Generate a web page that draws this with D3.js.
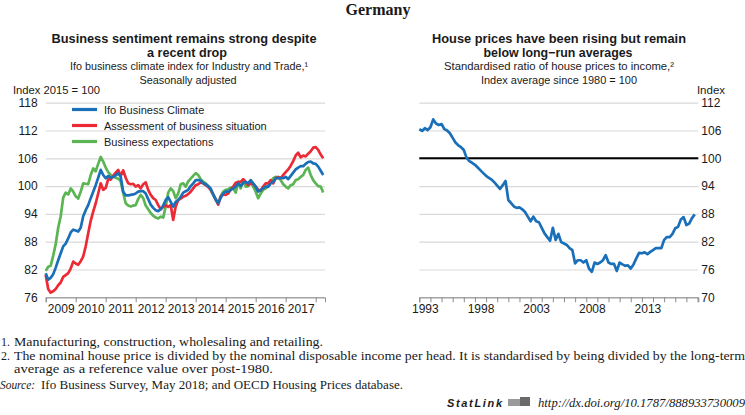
<!DOCTYPE html>
<html><head><meta charset="utf-8">
<script src="https://cdn.jsdelivr.net/npm/d3@7"></script>
<style>
body{margin:0;background:#fff;}
svg text{font-family:"Liberation Sans","Arial",sans-serif;fill:#1a1a1a;}
.serif{font-family:"Liberation Serif","Times New Roman",serif !important;}
</style></head><body>
<svg id="c" width="745" height="415"></svg>
<script>
// ---------- DATA ----------
// Ifo business climate, monthly Jan 2009 - Apr 2018 (Index 2015 = 100)
const climate = [
 81.2,79.8,80.2,81.0,82.4,84.0,85.5,87.0,87.6,88.7,90.0,90.6,
 90.4,90.2,91.0,93.5,94.8,95.9,97.4,98.8,100.2,101.8,103.5,102.4,
 101.7,102.2,101.8,102.0,102.3,102.8,102.0,98.8,98.0,98.0,98.1,98.2,
 98.4,98.8,98.9,98.9,98.4,97.2,96.0,95.3,94.8,94.6,95.0,95.8,
 97.0,97.6,96.6,95.6,96.6,97.0,97.7,98.6,98.9,99.2,100.0,100.6,
 101.3,101.3,101.2,100.6,100.4,100.0,99.5,98.2,97.1,96.3,97.5,98.4,
 98.8,98.8,99.2,99.5,99.9,100.6,100.0,100.7,100.9,100.6,101.3,100.6,
 99.9,98.8,99.2,99.5,99.9,99.9,100.6,100.9,101.7,101.7,101.8,101.7,
 102.0,101.5,102.2,102.9,103.6,104.0,104.3,104.3,104.8,105.2,105.3,104.9,
 104.8,104.2,103.3,102.4];
const situation = [
 80.8,77.8,77.0,77.3,77.8,78.6,79.2,80.4,80.8,81.2,82.2,83.7,
 83.3,83.0,83.8,84.8,87.0,89.8,92.5,94.5,96.3,98.4,100.6,99.2,
 99.6,101.5,101.4,102.2,102.9,103.5,102.2,103.4,101.8,100.6,100.4,100.5,
 99.9,100.2,99.5,100.4,100.8,99.2,98.1,97.4,97.0,95.9,95.0,95.5,
 95.9,95.5,95.9,92.7,95.6,97.0,97.3,97.7,97.9,98.3,98.8,99.5,
 100.2,100.4,100.8,100.6,100.2,99.8,99.2,98.2,97.2,96.0,97.8,98.2,
 98.1,98.4,99.2,99.9,100.7,100.9,100.9,101.5,100.9,100.2,100.6,100.4,
 99.9,99.2,99.0,99.9,100.6,100.6,101.3,100.6,101.7,102.0,101.7,102.4,
 103.0,103.6,104.4,105.4,106.6,107.2,106.2,106.6,106.4,107.0,107.5,108.3,
 108.4,107.8,106.8,106.0];
const expectations = [
 81.7,82.6,82.8,85.0,87.5,91.0,93.5,97.5,98.6,98.2,99.5,98.8,
 97.8,97.3,98.8,100.6,100.5,100.4,102.4,103.8,103.2,104.8,106.3,105.3,
 104.0,103.0,102.4,102.0,101.8,101.6,101.0,98.5,96.3,95.8,95.6,95.8,
 95.9,97.2,98.1,97.4,95.8,95.0,94.2,93.6,93.2,93.0,93.4,93.2,
 95.6,98.6,99.5,98.9,97.4,98.4,100.4,100.6,99.9,101.0,101.6,102.2,
 102.8,102.4,101.5,101.0,100.6,100.0,99.2,98.1,97.0,96.2,97.8,98.8,
 99.2,99.3,99.7,99.5,98.6,100.9,99.5,101.3,99.9,100.0,100.9,99.9,
 98.8,97.4,98.4,99.2,99.5,99.9,100.9,101.7,102.0,101.8,101.3,100.4,
 99.9,99.5,100.2,100.4,101.3,101.5,102.0,102.4,103.5,104.0,102.4,101.3,
 100.6,100.0,99.9,98.6];
const seriesNames = ["Ifo Business Climate","Assessment of business situation","Business expectations"];
const seriesColors = ["#1a6fb9","#ec2a35","#5ab552"];
const firstMonth = 2009; // Jan 2009

// Standardised price-to-income ratio, quarterly 1993Q1 - 2017Q4 (avg since 1980 = 100)
const houseRatio = [
 106.3,105.9,106.5,106.1, 106.7,108.4,107.5,107.2, 107.4,106.3,106.0,105.4,
 104.4,103.4,102.8,102.4, 101.8,100.1,99.4,99.0, 98.6,98.0,97.4,96.8,
 96.2,95.8,95.4,94.8, 94.1,93.4,94.2,95.1, 91.0,90.3,89.6,89.3,
 89.4,89.0,88.4,87.4, 86.4,87.4,86.4,86.2, 85.0,83.8,83.0,82.2,
 85.0,82.4,83.7,81.9, 81.6,81.3,80.6,80.2, 77.3,78.0,78.0,77.5,
 78.0,76.2,75.5,77.5, 77.2,77.5,78.0,79.1, 77.5,77.2,77.2,75.7,
 77.5,77.1,76.8,76.9, 76.2,77.1,78.4,79.6, 79.5,79.7,79.3,79.8,
 80.2,80.6,80.6,80.6, 82.4,83.0,83.0,83.7, 84.9,85.2,86.8,87.3,
 85.6,85.9,87.1,87.9];
const firstQuarter = 1993;
const referenceLevel = 100;

const leftYTicks = [76,82,88,94,100,106,112,118];
const rightYTicks = [70,76,82,88,94,100,106,112];
const leftYearTicks = d3.range(2009, 2019);
const leftYearLabels = d3.range(2009, 2018);
const rightYearTicks = d3.range(1993, 2019);
const rightYearLabels = [1993,1998,2003,2008,2013];

// ---------- DRAW ----------
(function(){
const svg = d3.select("#c");
const plotTop = 102.7, plotBottom = 297.3;

svg.append("text").attr("x",378).attr("y",15).attr("text-anchor","middle")
  .attr("class","serif").style("font-weight","bold").style("font-size","16px").text("Germany");

function fitText(x,y,t,size,len,bold){
  const e = svg.append("text").attr("x",x).attr("y",y).attr("text-anchor","middle")
    .style("font-size",size+"px").text(t)
    .attr("textLength",len).attr("lengthAdjust","spacingAndGlyphs");
  if(bold) e.style("font-weight","bold");
  return e;
}
// left titles
fitText(184,42.5,"Business sentiment remains strong despite",12.8,265,true);
fitText(187,57,"a recent drop",12.8,80,true);
fitText(189,70,"Ifo business climate index for Industry and Trade,\u00b9",11.5,238,false);
fitText(188,84,"Seasonally adjusted",11.5,97,false);
// right titles
fitText(559,42.5,"House prices have been rising but remain",12.8,254,true);
fitText(558,57,"below long\u2212run averages",12.8,149,true);
fitText(559,70,"Standardised ratio of house prices to income,\u00b2",11.5,230,false);
fitText(559,84,"Index average since 1980 = 100",11.5,156,false);

svg.append("text").attr("x",13).attr("y",93.5).style("font-size","11.5px")
  .attr("textLength",87).attr("lengthAdjust","spacingAndGlyphs").text("Index 2015 = 100");
svg.append("text").attr("x",711).attr("y",93.5).attr("text-anchor","middle").style("font-size","11.5px").text("Index");

// LEFT PANEL
const xL = d3.scaleLinear().domain([2009, 2018.31]).range([45.7, 325]);
const yL = d3.scaleLinear().domain([76,118]).range([plotBottom, plotTop]);
const gL = svg.append("g");
gL.append("g").attr("transform",`translate(${xL.range()[0]},0)`)
  .call(d3.axisLeft(yL).tickValues(leftYTicks).tickSize(-(xL.range()[1]-xL.range()[0])).tickFormat(""))
  .call(g=>g.select(".domain").remove())
  .call(g=>g.selectAll("line").attr("stroke","#d9d9d9").attr("stroke-width",1.2));
gL.append("g").attr("transform",`translate(${xL.range()[0]},0)`)
  .call(d3.axisLeft(yL).tickValues(leftYTicks).tickSize(0).tickPadding(8))
  .call(g=>g.select(".domain").remove())
  .call(g=>g.selectAll("text").style("font-size","12px").attr("fill","#1a1a1a"));
gL.append("g").attr("transform",`translate(0,${plotBottom})`)
  .call(d3.axisBottom(xL).tickValues(leftYearTicks).tickSize(5).tickFormat(""))
  .call(g=>g.select(".domain").attr("stroke","#8c8c8c"))
  .call(g=>g.selectAll("line").attr("stroke","#8c8c8c"));
gL.append("g").attr("transform",`translate(0,${plotBottom})`)
  .call(d3.axisBottom(xL).tickValues(leftYearLabels.map(y=>y+0.5)).tickSize(0).tickPadding(7).tickFormat(d=>String(Math.floor(d))))
  .call(g=>g.select(".domain").remove())
  .call(g=>g.selectAll("text").style("font-size","12px").attr("fill","#1a1a1a"));

const lineL = d3.line().x((d,i)=>xL(firstMonth + i/12)).y(d=>yL(d));
[[expectations,2],[situation,1],[climate,0]].forEach(([s,idx])=>{
  gL.append("path").datum(s).attr("d",lineL).attr("fill","none")
    .attr("stroke",seriesColors[idx]).attr("stroke-width",2.7).attr("stroke-linejoin","round");
});
// legend
seriesNames.forEach((n,i)=>{
  const y = 109.5 + i*16;
  gL.append("line").attr("x1",72).attr("x2",97).attr("y1",y).attr("y2",y)
    .attr("stroke",seriesColors[i]).attr("stroke-width",3.2);
  gL.append("text").attr("x",104).attr("y",y+4).style("font-size","11px").text(n);
});

// RIGHT PANEL
const xR = d3.scaleLinear().domain([1993, 2018.07]).range([419.3, 698.3]);
const yR = d3.scaleLinear().domain([70,112]).range([plotBottom, plotTop]);
const gR = svg.append("g");
gR.append("g").attr("transform",`translate(${xR.range()[1]},0)`)
  .call(d3.axisRight(yR).tickValues(rightYTicks).tickSize(-(xR.range()[1]-xR.range()[0])).tickFormat(""))
  .call(g=>g.select(".domain").remove())
  .call(g=>g.selectAll("line").attr("stroke","#d9d9d9").attr("stroke-width",1.2));
gR.append("g").attr("transform",`translate(${xR.range()[1]},0)`)
  .call(d3.axisRight(yR).tickValues(rightYTicks).tickSize(0).tickPadding(3))
  .call(g=>g.select(".domain").remove())
  .call(g=>g.selectAll("text").style("font-size","12px").attr("fill","#1a1a1a"));
gR.append("g").attr("transform",`translate(0,${plotBottom})`)
  .call(d3.axisBottom(xR).tickValues(rightYearTicks).tickSize(5).tickFormat(""))
  .call(g=>g.select(".domain").attr("stroke","#8c8c8c"))
  .call(g=>g.selectAll("line").attr("stroke","#8c8c8c"));
gR.append("g").attr("transform",`translate(0,${plotBottom})`)
  .call(d3.axisBottom(xR).tickValues(rightYearLabels.map(y=>y+0.5)).tickSize(0).tickPadding(7).tickFormat(d=>String(Math.floor(d))))
  .call(g=>g.select(".domain").remove())
  .call(g=>g.selectAll("text").style("font-size","12px").attr("fill","#1a1a1a"));
gR.append("line").attr("x1",xR.range()[0]).attr("x2",xR.range()[1])
  .attr("y1",yR(referenceLevel)).attr("y2",yR(referenceLevel)).attr("stroke","#000").attr("stroke-width",2);
const lineR = d3.line().x((d,i)=>xR(firstQuarter + i/4)).y(d=>yR(d));
gR.append("path").datum(houseRatio).attr("d",lineR).attr("fill","none")
  .attr("stroke","#1a6fb9").attr("stroke-width",2.7).attr("stroke-linejoin","round");

// FOOTNOTES
const fn = svg.append("g");
function ftext(x,y,t,len,italic){
  const e = fn.append("text").attr("class","serif").attr("x",x).attr("y",y).style("font-size","12px").text(t);
  if(len) e.attr("textLength",len).attr("lengthAdjust","spacingAndGlyphs");
  if(italic) e.style("font-style","italic");
  return e;
}
ftext(1,346,"1.");
ftext(14,346,"Manufacturing, construction, wholesaling and retailing.",309);
ftext(1,360,"2.");
ftext(14,360,"The nominal house price is divided by the nominal disposable income per head. It is standardised by being divided by the long-term",731);
ftext(14,373,"average as a reference value over post-1980.",259);
ftext(0,389,"Source:",35,true);
ftext(41,389,"Ifo Business Survey, May 2018; and OECD Housing Prices database.",362);
svg.append("text").attr("x",447).attr("y",407).style("font-size","11px").style("font-weight","bold")
  .style("font-style","italic").attr("textLength",55).text("StatLink");
svg.append("rect").attr("x",508).attr("y",399).attr("width",22).attr("height",7).attr("fill","#9a9a9a");
svg.append("rect").attr("x",520).attr("y",397).attr("width",10).attr("height",9).attr("fill","#6a6a6a");
ftext(538,407,"http://dx.doi.org/10.1787/888933730009",207,true);
})();
</script>
</body></html>
